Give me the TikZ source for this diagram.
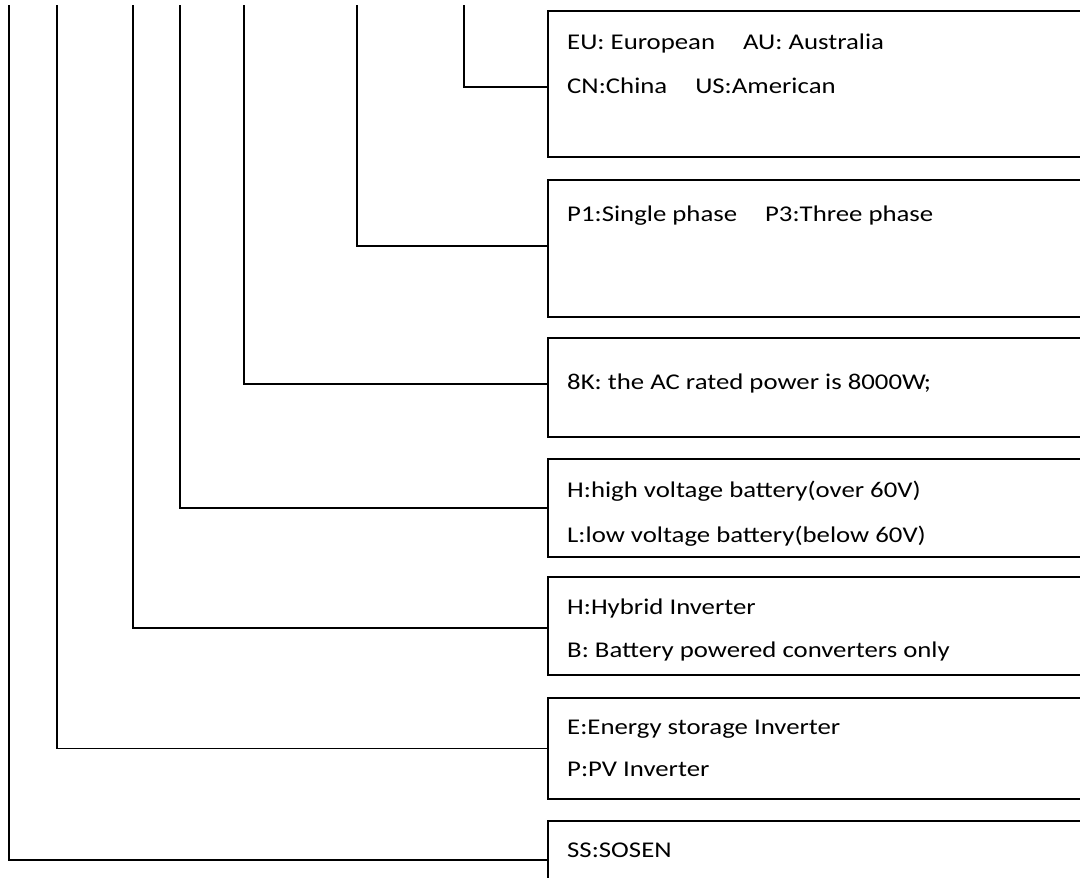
\documentclass[tikz,border=0pt]{standalone}
\usepackage{fontspec}
\setmainfont{Carlito}[FakeStretch=1.19]
\begin{document}
\begin{tikzpicture}[x=1pt,y=-1pt,
  box/.style={draw=black,line width=1.6pt,rectangle,anchor=north west,inner sep=0pt},
  conn/.style={draw=black,line width=1.4pt},
  lbl/.style={anchor=base west,inner sep=0pt,font=\fontsize{22.5}{26}\selectfont}]
\useasboundingbox (0,0) rectangle (1080,878);
% boxes (right edges run past the picture)
\node[box,minimum width=560pt,minimum height=146pt] (b1) at (547,10) {};
\node[box,minimum width=560pt,minimum height=137pt] (b2) at (547,179) {};
\node[box,minimum width=560pt,minimum height=99pt]  (b3) at (547,337) {};
\node[box,minimum width=560pt,minimum height=98pt]  (b4) at (547,458) {};
\node[box,minimum width=560pt,minimum height=98pt]  (b5) at (547,576) {};
\node[box,minimum width=560pt,minimum height=101pt] (b6) at (547,697) {};
\node[box,minimum width=560pt,minimum height=78pt]  (b7) at (547,820) {};
% texts
\node[lbl] (t1a) at (567,49)  {EU: European\hspace{28pt}AU: Australia};
\node[lbl] (t1b) at (567,93)  {CN:China\hspace{28pt}US:American};
\node[lbl] (t2a) at (567,221) {P1:Single phase\hspace{28pt}P3:Three phase};
\node[lbl] (t3a) at (567,389) {8K: the AC rated power is 8000W;};
\node[lbl] (t4a) at (567,497) {H:high voltage battery(over 60V)};
\node[lbl] (t4b) at (567,542) {L:low voltage battery(below 60V)};
\node[lbl] (t5a) at (567,614) {H:Hybrid Inverter};
\node[lbl] (t5b) at (567,657) {B: Battery powered converters only};
\node[lbl] (t6a) at (567,734) {E:Energy storage Inverter};
\node[lbl] (t6b) at (567,776) {P:PV Inverter};
\node[lbl] (t7a) at (567,857) {SS:SOSEN};
% connector tops
\coordinate (c1) at (464,5);
\coordinate (c2) at (357,5);
\coordinate (c3) at (244,5);
\coordinate (c4) at (180,5);
\coordinate (c5) at (133,5);
\coordinate (c6) at (57,5);
\coordinate (c7) at (9,5);
\draw[conn] (c1) |- ([yshift=-3pt]b1.west);
\draw[conn] (c2) |- ([yshift=2.5pt]b2.west);
\draw[conn] (c3) |- ([yshift=3.5pt]b3.west);
\draw[conn] (c4) |- (b4.west);
\draw[conn] (c5) |- ([yshift=-2pt]b5.west);
\draw[conn] (c6) |- (b6.west);
\draw[conn] (c7) |- (b7.west);
\end{tikzpicture}
\end{document}
